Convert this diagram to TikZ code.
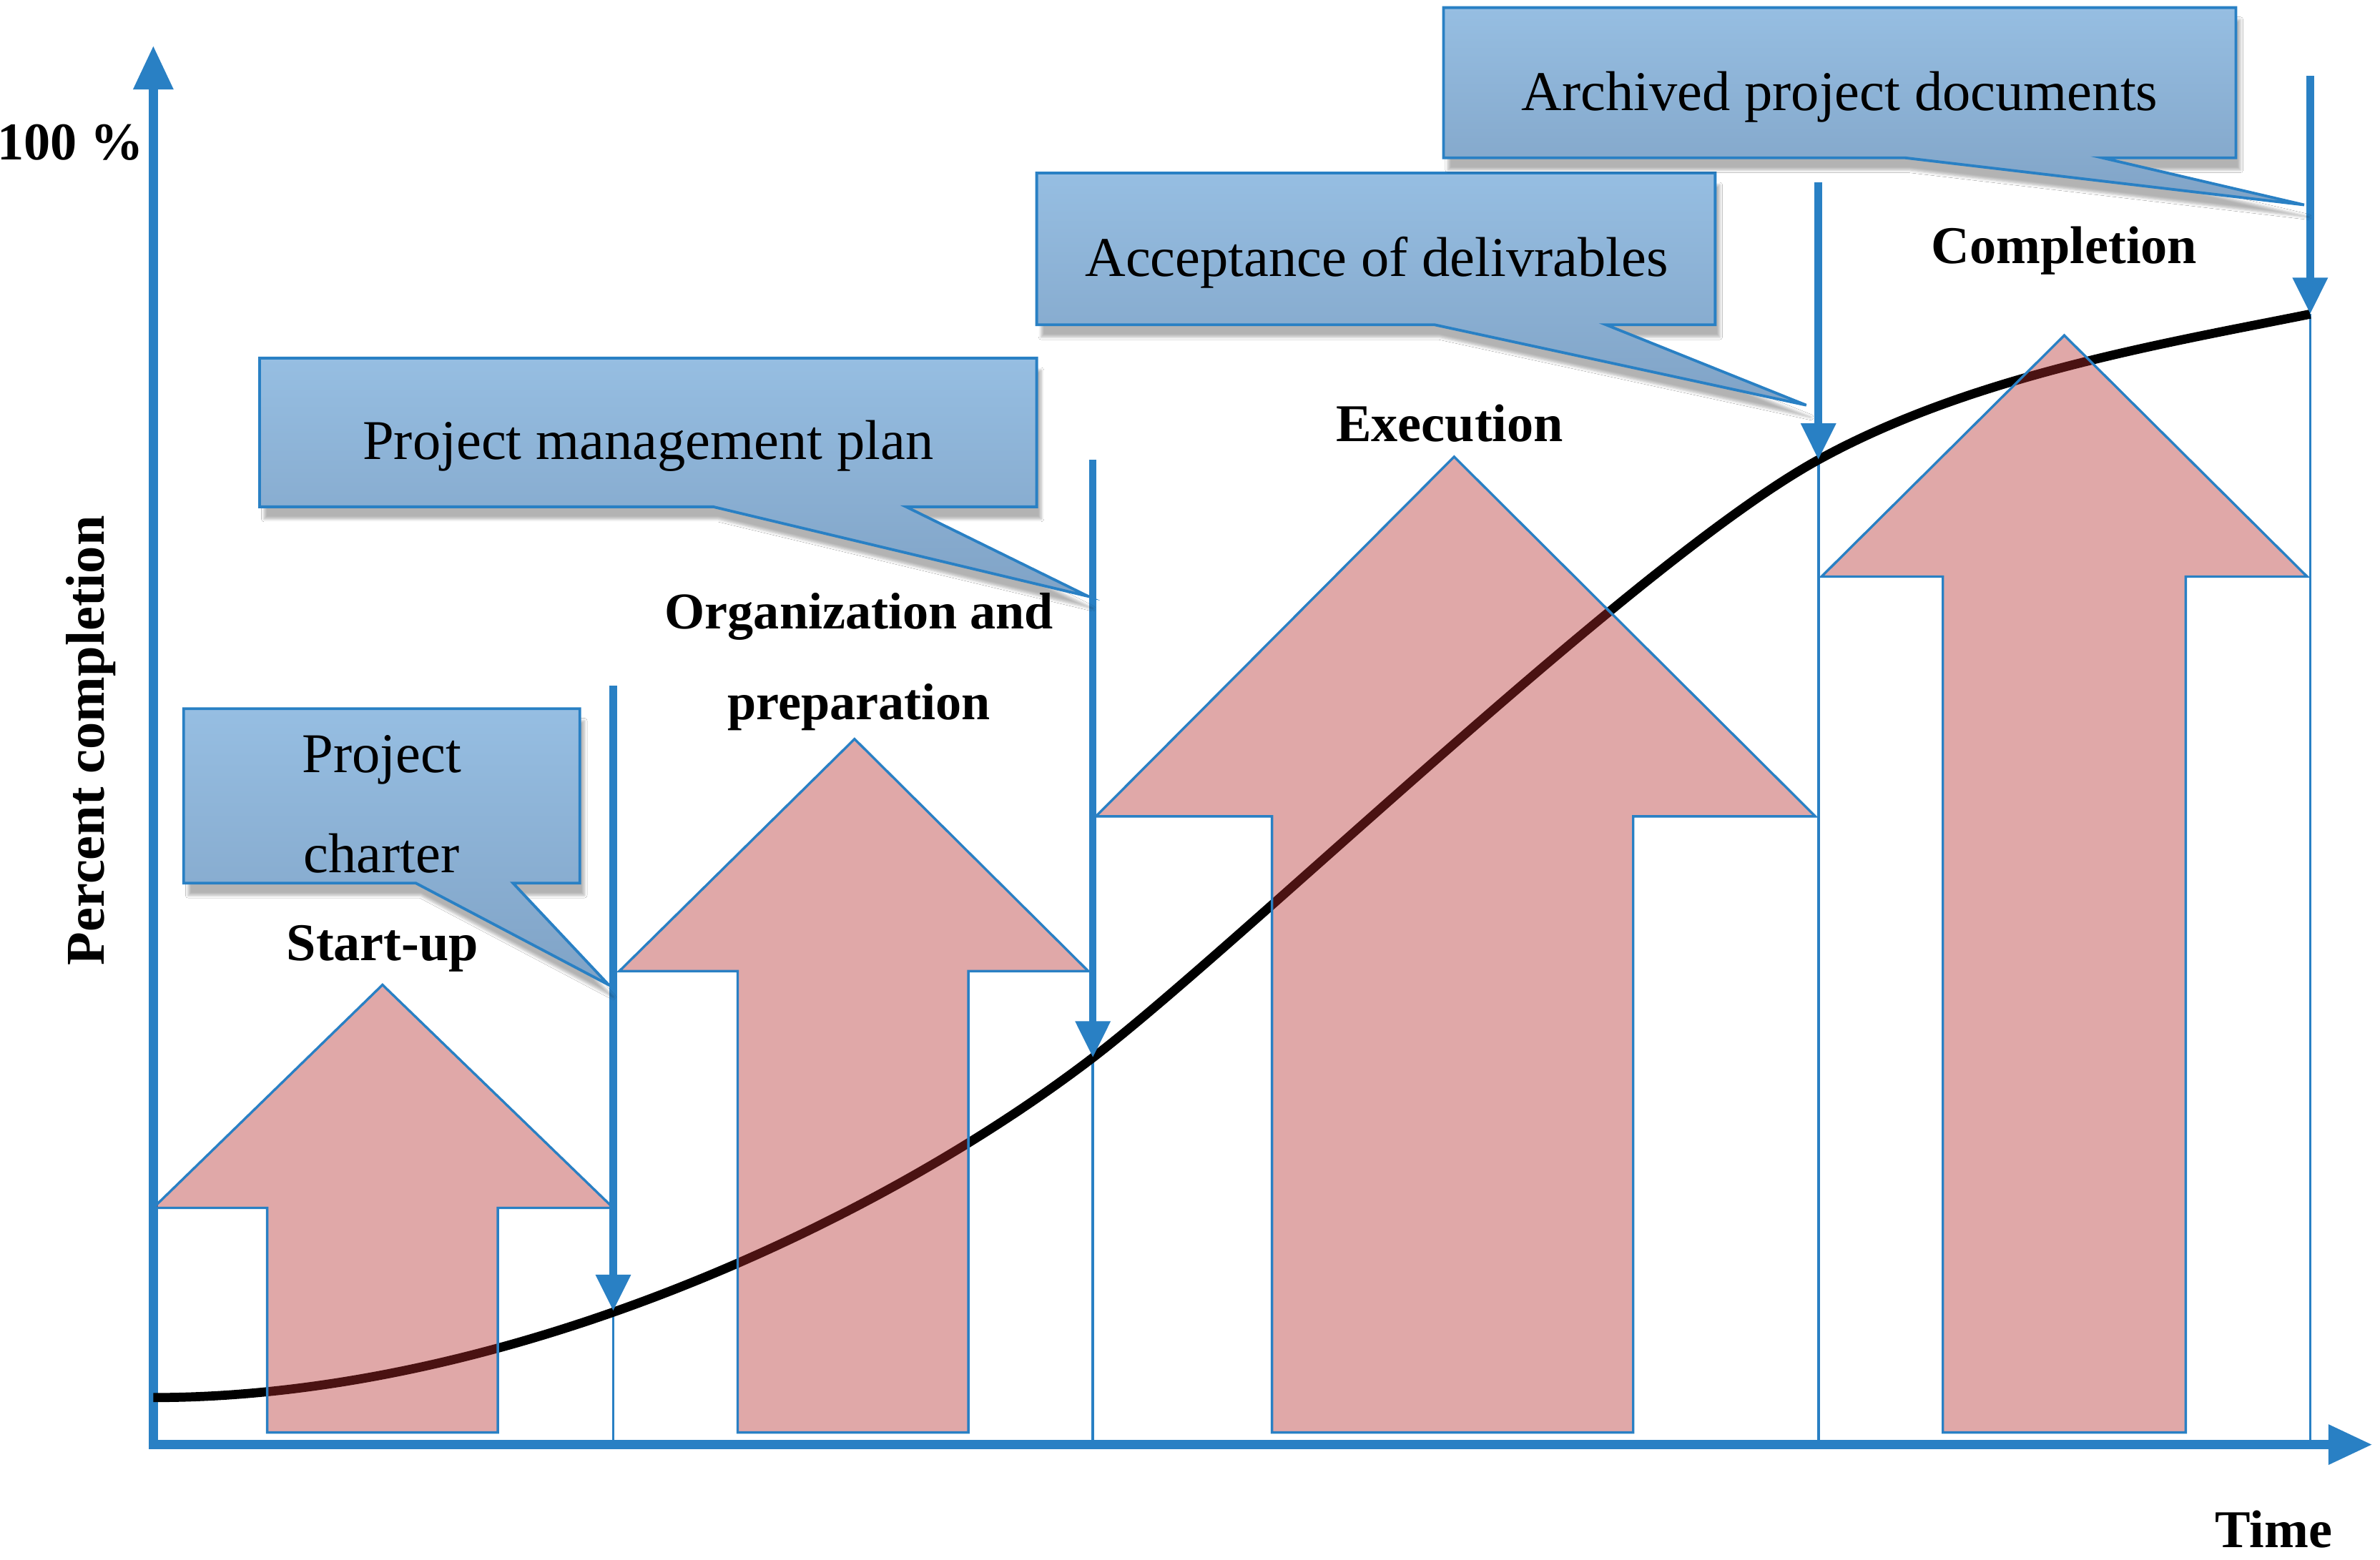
\documentclass[tikz,border=0pt]{standalone}
\usepackage{fontspec}
\setmainfont{Liberation Serif}
\usetikzlibrary{shadows.blur,arrows.meta}
\definecolor{axblue}{RGB}{41,128,196}
\definecolor{calltop}{RGB}{150,190,226}
\definecolor{callbot}{RGB}{128,163,198}
\definecolor{arrfill}{RGB}{180,44,44}
\tikzset{
  callout/.style={draw=axblue, line width=1.8pt, line join=miter, top color=calltop, bottom color=callbot,
    blur shadow={shadow blur steps=6, shadow xshift=3pt, shadow yshift=-8pt, shadow opacity=30}},
  calltext/.style={font=\fontsize{37}{66}\selectfont, align=center, inner sep=0pt},
  phase/.style={font=\fontsize{35}{60}\selectfont\bfseries, align=center, inner sep=0pt},
  bigarrow/.style={draw=axblue, line width=1.6pt, fill=arrfill, fill opacity=0.41, line join=miter},
  axisline/.style={draw=axblue, line width=6pt, -{Triangle[width=25pt,length=29pt]}},
  milestone/.style={draw=axblue, line width=5pt, -{Triangle[width=22pt,length=24pt]}},
  boundary/.style={draw=axblue, line width=1.8pt},
  scurve/.style={draw=black, line width=6pt}
}
\begin{document}
\begin{tikzpicture}[x=1pt,y=-1pt]
\useasboundingbox (0,0) rectangle (1568,1028);
\fill[white] (0,0) rectangle (1568,1028);

% named coordinates
\coordinate (ytop) at (101,30);
\coordinate (xend) at (1563,952);
\coordinate (b1) at (404,952);
\coordinate (b2) at (720,952);
\coordinate (b3) at (1198,952);
\coordinate (b4) at (1522,952);
\coordinate (c0) at (101,921);
\coordinate (c1) at (404,864);
\coordinate (c2) at (720,697);
\coordinate (c3) at (1198,303);
\coordinate (c4) at (1522,207);
\coordinate (m1) at (404,452);
\coordinate (m2) at (720,303);
\coordinate (m3) at (1198,120);
\coordinate (m4) at (1522,50);

% boundaries
\draw[boundary] (b1) -- (c1);
\draw[boundary] (b2) -- (c2);
\draw[boundary] (b3) -- (c3);
\draw[boundary] (b4) -- (c4);

% axes
\draw[axisline] (101,955) -- (ytop);
\draw[axisline] (98,952) -- (xend);

% S-curve
\draw[scurve] (c0) .. controls (330,921) and (575,808) .. (c2)
  .. controls (820,620) and (1078,369) .. (c3)
  .. controls (1298,248) and (1422,227) .. (c4);

% big phase arrows
\path[bigarrow] (176,944) -- (176,796) -- (101,796) -- (252,649) -- (404,796) -- (328,796) -- (328,944) -- cycle;
\path[bigarrow] (486,944) -- (486,640) -- (408,640) -- (563,487) -- (717,640) -- (638,640) -- (638,944) -- cycle;
\path[bigarrow] (838,944) -- (838,538) -- (722,538) -- (958,301) -- (1196,538) -- (1076,538) -- (1076,944) -- cycle;
\path[bigarrow] (1280,944) -- (1280,380) -- (1200,380) -- (1360,221) -- (1520,380) -- (1440,380) -- (1440,944) -- cycle;

% milestone arrows
\draw[milestone] (m1) -- (c1);
\draw[milestone] (m2) -- (c2);
\draw[milestone] (m3) -- (c3);
\draw[milestone] (m4) -- (c4);

% callouts
\path[callout] (121,467) -- (382,467) -- (382,582) -- (338,582) -- (401,649) -- (274,582) -- (121,582) -- cycle;
\node[calltext] (pc) at (251.5,530) {Project\\charter};
\path[callout] (171,236) -- (683,236) -- (683,334) -- (597,334) -- (717,393) -- (470,334) -- (171,334) -- cycle;
\node[calltext] (pmp) at (427,294) {Project management plan};
\path[callout] (683,114) -- (1130,114) -- (1130,214) -- (1058,214) -- (1190,267) -- (945,214) -- (683,214) -- cycle;
\node[calltext] (acc) at (907,173) {Acceptance of delivrables};
\path[callout] (951,5) -- (1473,5) -- (1473,104) -- (1385,104) -- (1518,135) -- (1255,104) -- (951,104) -- cycle;
\node[calltext] (arc) at (1212,64) {Archived project documents};

% phase labels
\node[phase] (su) at (252,625) {Start-up};
\node[phase, font=\fontsize{34}{60}\selectfont\bfseries] (org) at (566,436) {Organization and\\preparation};
\node[phase] (ex) at (955,279) {Execution};
\node[phase] (co) at (1360,165) {Completion};

% axis labels
\node[phase, anchor=west] (hp) at (-2,94) {100 \%};
\node[phase] (tm) at (1498,1008) {Time};
\node[phase, rotate=90, font=\fontsize{36}{60}\selectfont\bfseries] (pcl) at (60,488) {Percent completion};
\end{tikzpicture}
\end{document}
